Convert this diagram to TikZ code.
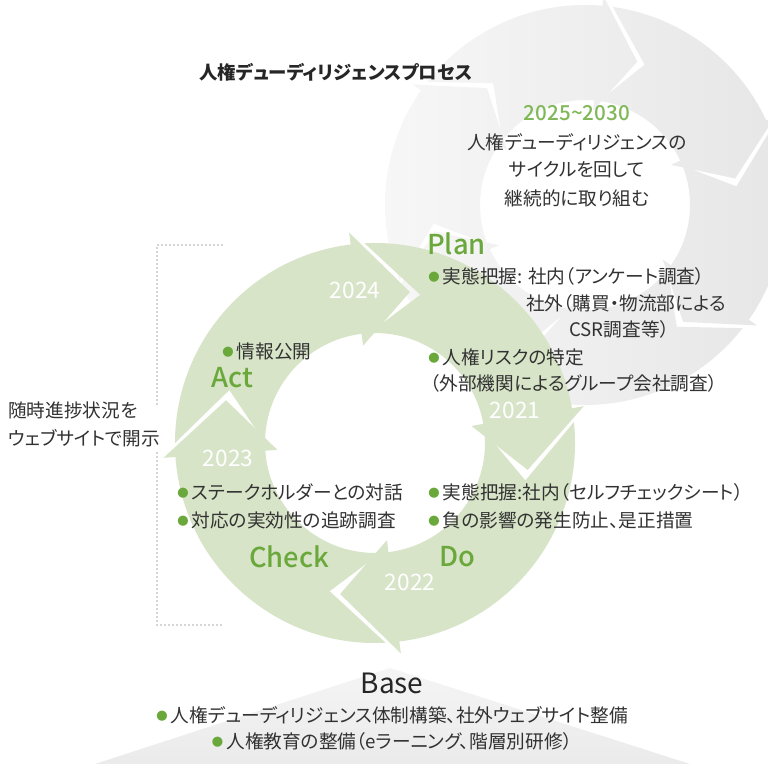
\documentclass[tikz,border=0pt]{standalone}
\usepackage{fontspec}
\setmainfont{Noto Sans CJK JP}[RawFeature=+palt]
\newfontfamily\medfont{Noto Sans CJK JP Medium}[RawFeature=+palt]
\definecolor{ringgreen}{RGB}{215,228,199}
\definecolor{leafgreen}{RGB}{106,168,60}
\definecolor{yeargreen}{RGB}{128,184,88}
\definecolor{textgray}{RGB}{50,50,50}
\newcommand{\gdot}{\raisebox{1.5pt}{\textcolor{leafgreen}{\fontsize{8.5}{8.5}\selectfont ●}}\,}
% one curved arrow of a cycle: tail angle, head base angle, inner r, outer r, head angle, barb
\newcommand{\ringseg}[6]{({#1}:{#4}) arc[start angle={#1}, end angle={#2}, radius={#4}]
  -- ({#2}:{#4+#6}) -- ({#2-#5}:{(#3+#4)/2}) -- ({#2}:{#3-#6})
  -- ({#2}:{#3}) arc[start angle={#2}, end angle={#1}, radius={#3}]
  -- ({#1-#5}:{(#3+#4)/2}) -- cycle}
\tikzset{
  body/.style={font=\fontsize{14}{16}\selectfont, text=textgray, inner sep=0pt, anchor=west},
  centred/.style={font=\fontsize{14}{16}\selectfont, text=textgray, inner sep=0pt},
  phase/.style={font=\medfont\fontsize{20.5}{22}\selectfont, text=leafgreen, inner sep=0pt, anchor=west},
  yearlabel/.style={font=\fontsize{17}{19}\selectfont, text=white, inner sep=0pt},
  cycleseg/.style={fill=ringgreen},
  bracket/.style={black!70, line width=0.9pt, dash pattern=on 0pt off 3pt, line cap=round}
}
\begin{document}
\begin{tikzpicture}[x=0.75pt, y=0.75pt]
  \useasboundingbox[fill=white] (0,0) rectangle (768,764);

  % faded outer cycle
  \begin{scope}
    \clip (0,0) rectangle (768,764);
    \begin{scope}[shift={(585,559)}]
      \clip \ringseg{202}{145}{105}{200}{15}{10} \ringseg{142}{85}{105}{200}{15}{10}
            \ringseg{82}{25}{105}{200}{15}{10} \ringseg{22}{-35}{105}{200}{15}{10}
            \ringseg{-38}{-95}{105}{200}{15}{10} \ringseg{-98}{-155}{105}{200}{15}{10};
      \shade[left color=black!3, right color=black!10] (-215,-215) rectangle (215,215);
    \end{scope}
  \end{scope}

  % base roof
  \coordinate (roofL) at (95,0);
  \coordinate (roofT) at (390,96);
  \coordinate (roofR) at (690,0);
  \shade[top color=black!4, bottom color=black!8] (roofL) -- (roofT) -- (roofR) -- cycle;

  % PDCA cycle
  \begin{scope}[shift={(375,321)}]
    \fill[cycleseg] \ringseg{180}{97}{110}{200}{20}{12};
    \fill[cycleseg] \ringseg{93}{10}{110}{200}{20}{12};
    \fill[cycleseg] \ringseg{6}{-83}{110}{200}{20}{12};
    \fill[cycleseg] \ringseg{-87}{-176}{110}{200}{20}{12};
  \end{scope}

  \node[yearlabel] (y2024) at (355,474) {2024};
  \node[yearlabel] (y2021) at (515,354) {2021};
  \node[yearlabel] (y2022) at (410,182) {2022};
  \node[yearlabel] (y2023) at (228,306) {2023};

  % title and outlook
  \node[body, font=\fontsize{13.8}{15}\selectfont\bfseries, text=black!85] (title) at (199,692) {人権デューディリジェンスプロセス};
  \node[inner sep=0pt, font=\medfont\fontsize{15.5}{17}\selectfont, text=yeargreen] (span) at (577,651) {2025\textasciitilde2030};
  \node[centred] (cyc1) at (577,622) {人権デューディリジェンスの};
  \node[centred] (cyc2) at (577,594) {サイクルを回して};
  \node[centred] (cyc3) at (577,566) {継続的に取り組む};

  % Plan
  \node[phase] (planlbl) at (427,520) {Plan};
  \node[body] (plan1) at (428,488) {\gdot 実態把握: 社内（アンケート調査）};
  \node[body] (plan2) at (526,461) {社外（購買・物流部による};
  \node[body] (plan3) at (569,435) {CSR調査等）};
  \node[body] (plan4) at (428,407) {\gdot 人権リスクの特定};
  \node[body] (plan5) at (430,381) {（外部機関によるグループ会社調査）};

  % Act
  \node[body] (act1) at (222,413) {\gdot 情報公開};
  \node[phase] (actlbl) at (211,386) {Act};

  % Check
  \node[body] (chk1) at (177,272) {\gdot ステークホルダーとの対話};
  \node[body] (chk2) at (177,244) {\gdot 対応の実効性の追跡調査};
  \node[phase] (chklbl) at (249,207) {Check};

  % Do
  \node[body] (do1) at (428,272) {\gdot 実態把握:社内（セルフチェックシート）};
  \node[body] (do2) at (428,244) {\gdot 負の影響の発生防止、是正措置};
  \node[phase] (dolbl) at (439,207) {Do};

  % Base
  \node[inner sep=0pt, font=\fontsize{21}{23}\selectfont, text=black!85] (baselbl) at (392,81) {Base};
  \node[centred] (base1) at (392,49) {\gdot 人権デューディリジェンス体制構築、社外ウェブサイト整備};
  \node[centred] (base2) at (392,23) {\gdot 人権教育の整備（eラーニング、階層別研修）};

  % disclosure bracket
  \node[body] (note1) at (8,354) {随時進捗状況を};
  \node[body] (note2) at (8,326) {ウェブサイトで開示};
  \coordinate (brTR) at (222,519);
  \coordinate (brTL) at (157,519);
  \coordinate (brM1) at (157,357);
  \coordinate (brM2) at (157,311);
  \coordinate (brBL) at (157,139);
  \coordinate (brBR) at (222,139);
  \draw[bracket] (brTR) -- (brTL) -- (brM1);
  \draw[bracket] (brM2) -- (brBL) -- (brBR);
\end{tikzpicture}
\end{document}
